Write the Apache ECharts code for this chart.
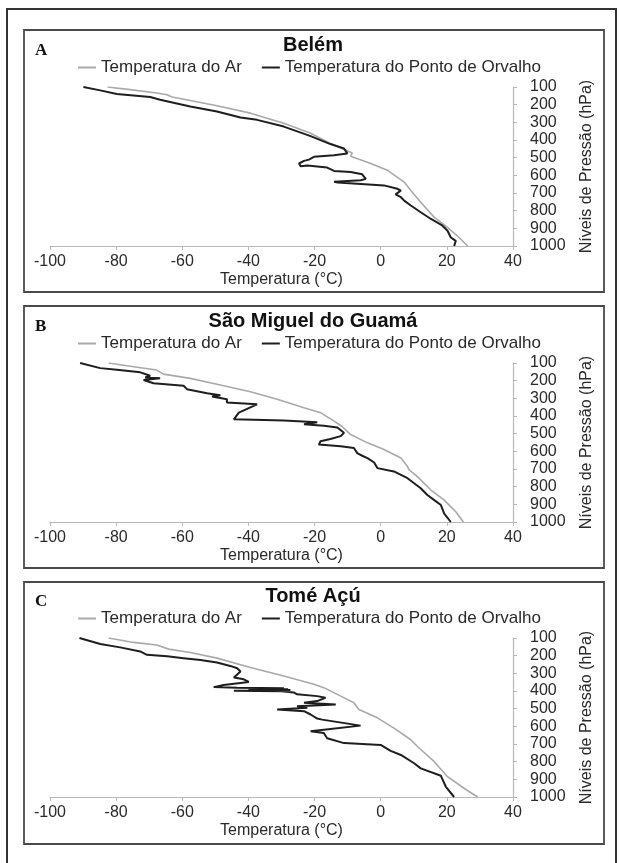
<!DOCTYPE html>
<html>
<head>
<meta charset="utf-8">
<script src="https://cdn.jsdelivr.net/npm/echarts@6/dist/echarts.min.js"></script>
<style>
  html, body { margin: 0; padding: 0; background: #fff; }
  #app { width: 619px; height: 863px; }
</style>
</head>
<body>
<div id="app"></div>
<script>
const FONT = '"Liberation Sans", Arial, sans-serif';

const serieAr = 'Temperatura do Ar';
const serieOrvalho = 'Temperatura do Ponto de Orvalho';
const titulos = ['Belém', 'São Miguel do Guamá', 'Tomé Açú'];
const letras = ['A', 'B', 'C'];

// [temperatura °C, pressão hPa]
const belemAr = [[-82.6,100],[-75.8,115],[-67.7,134],[-64.6,144],[-63.1,157],[-57.6,176],[-49.5,206],[-39.4,248],[-29.3,305],[-21.2,362],[-15.2,419],[-11.1,454],[-8.6,473],[-9.1,492],[-3,533],[2,571],[7.1,638],[9.1,686],[12.1,752],[16.2,838],[20.2,895],[23.7,952],[26.3,1000]];
const belemOrvalho = [[-89.9,100],[-84.8,119],[-79.8,140],[-69.7,157],[-66.7,172],[-57.6,210],[-49.5,239],[-42.4,273],[-37.4,286],[-29.3,324],[-21.2,378],[-15.2,423],[-11.1,448],[-10.1,476],[-14.1,486],[-20.2,495],[-21.7,511],[-23.2,518],[-24.7,533],[-24.2,549],[-22.2,545],[-16.2,556],[-14.1,575],[-9.1,581],[-5.6,594],[-4.5,620],[-6,628],[-14.1,636],[-13,640],[1,657],[5,676],[6.1,686],[4.5,708],[6.1,724],[7.1,743],[9.1,771],[12.1,809],[15.2,847],[18.7,885],[20.2,914],[21.2,952],[22.7,971],[22.2,1000]];

const guamaAr = [[-82.3,100],[-74.7,121],[-67.7,140],[-65.7,163],[-57.6,187],[-49.5,220],[-39.4,263],[-31.3,305],[-23.2,353],[-18.2,381],[-14.1,429],[-11.6,461],[-9.1,505],[-4,552],[1,590],[6.1,638],[8.1,686],[8.6,705],[11.1,743],[15.2,819],[19.2,876],[22.7,942],[25,1000]];
const guamaOrvalho = [[-90.9,100],[-84.8,129],[-79.8,138],[-72.7,153],[-69.7,172],[-71.2,182],[-66.7,187],[-71.7,196],[-68.7,215],[-59.6,229],[-58.6,248],[-52.5,271],[-48.5,282],[-51,290],[-46.5,305],[-46.5,324],[-37.4,334],[-42.9,381],[-44.4,419],[-29.3,425],[-19.2,435],[-23.2,447],[-17.2,455],[-13.1,465],[-11.1,495],[-12.1,514],[-15.2,530],[-18.2,543],[-18.7,562],[-12.1,571],[-8.1,581],[-7.1,610],[-5.6,625],[-4,638],[-2,663],[-1,695],[4,714],[8.1,752],[12.1,809],[14.1,847],[16.2,876],[18.2,904],[19.2,952],[21.2,1000]];

const tomeAr = [[-82.3,100],[-74.7,125],[-67.7,140],[-64.1,163],[-57.6,182],[-49.5,214],[-39.4,267],[-29.3,315],[-20.2,362],[-17.2,381],[-12.1,429],[-8.1,467],[-6.6,505],[-1,552],[4,610],[9.1,676],[11.1,714],[16.2,800],[20.2,885],[25.3,952],[29.3,1000]];
const tomeOrvalho = [[-91.1,100],[-84.8,134],[-78.8,153],[-72.7,176],[-70.7,195],[-64.6,203],[-59.6,214],[-54.5,225],[-49.5,239],[-45.5,258],[-43.4,271],[-42.4,290],[-44.4,324],[-41.4,334],[-39.9,349],[-47.5,366],[-50.5,378],[-43.4,381],[-29.3,385],[-38,388],[-28,390],[-40,392],[-27.3,395],[-44.4,399],[-30,402],[-26.3,408],[-25.3,419],[-19.2,429],[-16.7,438],[-19.2,457],[-23.2,467],[-13.6,476],[-25.3,486],[-22.2,495],[-31.3,505],[-23.2,514],[-21.2,533],[-19.2,556],[-17.7,562],[-6.1,596],[-17.2,619],[-21.2,628],[-17.2,638],[-16.2,667],[-11.1,695],[0,705],[3,739],[6.1,762],[10.1,809],[12.1,838],[18.2,880],[19.7,942],[22.2,1000]];

const dados = [[belemAr, belemOrvalho], [guamaAr, guamaOrvalho], [tomeAr, tomeOrvalho]];

// posições verticais de cada painel
const painelTopo = [30, 306, 582];
const gridTopo = [87, 363, 638];
const tituloY = [46, 322, 597];
const legendaY = [68, 344, 619];

const myChart = echarts.init(document.getElementById('app'));

const eixoCor = '#b8b8b8';
const textoCor = '#2a2a2a';

let option = {
    animation: false,
    textStyle: { fontFamily: FONT },
    title: [],
    legend: [],
    grid: [],
    xAxis: [],
    yAxis: [],
    series: [],
    graphic: [{
        type: 'rect',
        shape: { x: 7, y: 9, width: 609, height: 880 },
        style: { fill: 'none', stroke: '#333', lineWidth: 2 }
    }]
};

dados.forEach(function (par, i) {
    option.graphic.push({
        type: 'rect',
        shape: { x: 24, y: painelTopo[i], width: 580, height: 262 },
        style: { fill: 'none', stroke: '#4a4a4a', lineWidth: 1.8 }
    }, {
        type: 'text',
        x: 35, y: tituloY[i] + 5,
        style: {
            text: letras[i], fill: '#111',
            font: 'bold 17px "Liberation Serif", "Times New Roman", serif',
            verticalAlign: 'middle'
        }
    });
    option.title.push({
        text: titulos[i],
        left: 313,
        top: tituloY[i] - 11,
        textAlign: 'center',
        padding: 0,
        textStyle: { fontFamily: FONT, fontSize: 20, fontWeight: 'bold', color: '#111' }
    });
    option.legend.push({
        top: legendaY[i] - 9,
        left: 'center',
        padding: 0,
        icon: 'rect',
        itemWidth: 18,
        itemHeight: 2,
        itemGap: 20,
        data: [serieAr, serieOrvalho],
        textStyle: { fontFamily: FONT, fontSize: 17, color: textoCor }
    });
    option.grid.push({ left: 50, width: 463, top: gridTopo[i], height: 159 });
    option.xAxis.push({
        gridIndex: i,
        type: 'value',
        min: -100, max: 40, interval: 20,
        name: 'Temperatura (°C)',
        nameLocation: 'middle',
        nameGap: 26,
        nameTextStyle: { fontFamily: FONT, fontSize: 16, color: textoCor },
        axisLine: { onZero: false, lineStyle: { color: eixoCor, width: 1.2 } },
        axisTick: { show: true, length: 4, lineStyle: { color: eixoCor } },
        axisLabel: { fontFamily: FONT, fontSize: 16, color: textoCor, margin: 8 },
        splitLine: { show: false }
    });
    option.yAxis.push({
        gridIndex: i,
        type: 'value',
        position: 'right',
        inverse: true,
        min: 100, max: 1000, interval: 100,
        name: 'Níveis de Pressão (hPa)',
        nameLocation: 'middle',
        nameRotate: 90,
        nameGap: 66,
        nameTextStyle: { fontFamily: FONT, fontSize: 16, color: textoCor },
        axisLine: { show: true, onZero: false, lineStyle: { color: eixoCor, width: 1.2 } },
        axisTick: { show: true, length: 4, lineStyle: { color: eixoCor } },
        axisLabel: {
            fontFamily: FONT, fontSize: 16, color: textoCor, margin: 17,
            formatter: function (v) { return String(v); }
        },
        splitLine: { show: false }
    });
    option.series.push({
        name: serieAr,
        type: 'line',
        xAxisIndex: i, yAxisIndex: i,
        data: par[0],
        showSymbol: false,
        color: '#a9a9a9',
        lineStyle: { color: '#a9a9a9', width: 1.6 },
        z: 2
    }, {
        name: serieOrvalho,
        type: 'line',
        xAxisIndex: i, yAxisIndex: i,
        data: par[1],
        showSymbol: false,
        color: '#1e1e1e',
        lineStyle: { color: '#1e1e1e', width: 2 },
        z: 3
    });
});

myChart.setOption(option);
</script>
</body>
</html>
